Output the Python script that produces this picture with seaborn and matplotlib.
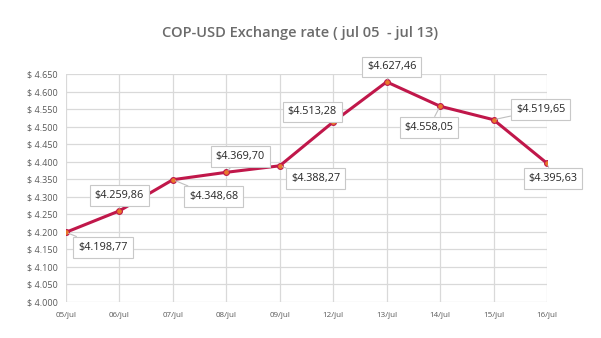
import matplotlib
matplotlib.use("Agg")
import matplotlib.pyplot as plt
import seaborn as sns
import pandas as pd
from matplotlib.ticker import FuncFormatter, MultipleLocator

# Daily closing rates
dates = ["05/jul", "06/jul", "07/jul", "08/jul", "09/jul",
         "12/jul", "13/jul", "14/jul", "15/jul", "16/jul"]
rates = [4198.77, 4259.86, 4348.68, 4369.70, 4388.27,
         4513.28, 4627.46, 4558.05, 4519.65, 4395.63]

# Where each value box sits relative to its point (pixels)
label_offsets = [(37, -15), (0, 15), (41, -17), (14, 16), (36, -13),
                 (-21, 10), (5, 15), (-11, -21), (47, 10), (6, -15)]

df = pd.DataFrame({"date": dates, "rate": rates, "pos": range(len(dates))})

sns.set_theme(style="white")
plt.rcParams["font.family"] = ["Open Sans", "DejaVu Sans"]

fig = plt.figure(figsize=(6.01, 3.38), dpi=100)
ax = fig.add_axes([0.1098, 0.1065, 0.8003, 0.6746])

sns.lineplot(data=df, x="pos", y="rate", ax=ax, color="#c0174a", linewidth=2.2,
             marker="o", markersize=4.2, markerfacecolor="#e8782a",
             markeredgecolor="#c0174a", markeredgewidth=0.8, zorder=3)


def euro_money(v, decimals):
    s = f"{v:,.{decimals}f}"
    return s.replace(",", "X").replace(".", ",").replace("X", ".")


for i, (v, off) in enumerate(zip(rates, label_offsets)):
    ax.annotate("$" + euro_money(v, 2), xy=(i, v), xytext=off,
                textcoords="offset pixels", ha="center", va="center",
                fontsize=7.8, color="#262626",
                bbox=dict(boxstyle="square,pad=0.45", fc="white",
                          ec="#c8c8c8", lw=0.8),
                arrowprops=dict(arrowstyle="-", color="#bfbfbf", lw=0.8,
                                shrinkA=0, shrinkB=2),
                zorder=5)

ax.set_xlim(0, len(dates) - 1)
ax.set_ylim(4000, 4650)
ax.set_xticks(range(len(dates)))
ax.set_xticklabels(dates)
ax.yaxis.set_major_locator(MultipleLocator(50))
ax.yaxis.set_major_formatter(FuncFormatter(lambda v, p: "$ " + euro_money(v, 0)))

ax.grid(True, color="#d9d9d9", linewidth=0.9)
for s in ax.spines.values():
    s.set_visible(False)
ax.tick_params(axis="y", labelsize=6.5, colors="#595959", length=0, pad=6)
ax.tick_params(axis="x", labelsize=5.8, colors="#595959", length=0, pad=7)
ax.set_xlabel("")
ax.set_ylabel("")

fig.text(0.5, 0.902, "COP-USD Exchange rate ( jul 05  - jul 13)", ha="center",
         va="center", fontsize=10.5, fontweight="semibold", color="#6b6b6b")

fig.savefig("out.png", dpi=100, facecolor="white")
